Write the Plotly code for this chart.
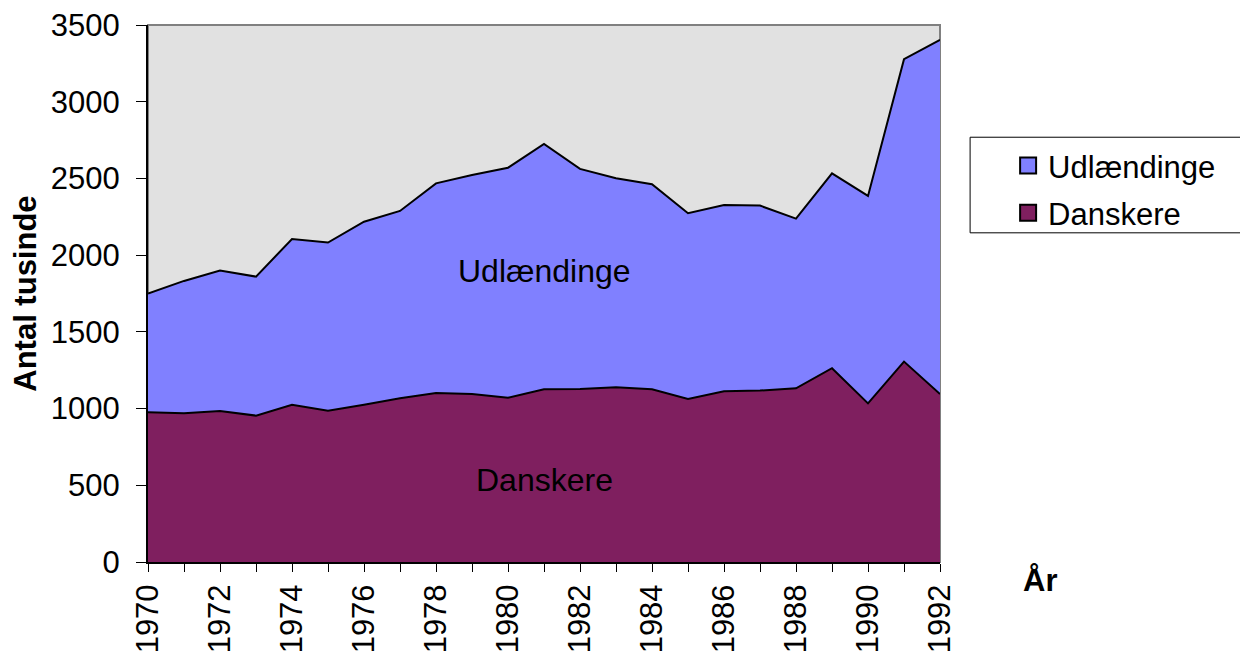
import plotly.graph_objects as go

years = list(range(1970, 1993))
total = [1750, 1832, 1900, 1860, 2105, 2082, 2218, 2288, 2468, 2522, 2570, 2725,
         2562, 2501, 2462, 2273, 2327, 2323, 2238, 2533, 2386, 3277, 3403]
danskere = [976, 969, 984, 954, 1025, 986, 1025, 1067, 1101, 1095, 1071, 1126,
            1128, 1139, 1126, 1063, 1113, 1117, 1132, 1263, 1034, 1306, 1095]
udlaendinge = [t - d for t, d in zip(total, danskere)]
tick_labels = [str(y) if y % 2 == 0 else "" for y in years]

FONT = "Liberation Sans, Arial, sans-serif"
C_DK = "#7F1F5F"
C_UD = "#8080FF"

fig = go.Figure()
fig.add_trace(go.Scatter(
    x=years, y=danskere, name="Danskere", stackgroup="one",
    mode="lines", line=dict(color="black", width=2),
    fillcolor=C_DK, showlegend=False,
))
fig.add_trace(go.Scatter(
    x=years, y=udlaendinge, name="Udlændinge", stackgroup="one",
    mode="lines", line=dict(color="black", width=2),
    fillcolor=C_UD, showlegend=False,
))
# legend entries with square swatches
fig.add_trace(go.Scatter(
    x=[None], y=[None], name="Udlændinge", mode="markers", legendgroup="u",
    marker=dict(symbol="square", size=16, color=C_UD, line=dict(color="black", width=2)),
))
fig.add_trace(go.Scatter(
    x=[None], y=[None], name="Danskere", mode="markers", legendgroup="d",
    marker=dict(symbol="square", size=16, color=C_DK, line=dict(color="black", width=2)),
))

fig.update_layout(
    width=1240, height=644,
    margin=dict(l=140, r=308, t=17, b=90),
    paper_bgcolor="white",
    plot_bgcolor="#E1E1E1",
    font=dict(family=FONT, size=31, color="black"),
    showlegend=True,
    legend=dict(
        x=1.086, y=0.788, xanchor="left", yanchor="top",
        bgcolor="rgba(0,0,0,0)", borderwidth=0,
        tracegroupgap=4,
        font=dict(size=31),
    ),
    annotations=[
        dict(text="Udlændinge", x=1981, y=1895, xref="x", yref="y",
             showarrow=False, font=dict(size=32)),
        dict(text="Danskere", x=1981, y=535, xref="x", yref="y",
             showarrow=False, font=dict(size=32)),
        dict(text="<b>År</b>", x=1.126, y=-0.034, xref="paper", yref="paper",
             xanchor="center", yanchor="middle",
             showarrow=False, font=dict(size=31)),
        dict(text="<b>Antal tusinde</b>", x=-0.155, y=0.5, xref="paper", yref="paper",
             xanchor="center", yanchor="middle",
             textangle=-90, showarrow=False, font=dict(size=31)),
    ],
    shapes=[
        dict(type="rect", xref="paper", yref="paper", x0=0, y0=0, x1=1, y1=1,
             line=dict(color="#808080", width=2), layer="below"),
        # legend frame
        dict(type="rect", xref="paper", yref="paper",
             x0=1.038, x1=1.386, y0=0.613, y1=0.791,
             line=dict(color="black", width=1)),
    ],
)

fig.update_xaxes(
    range=[1970, 1992], automargin=False,
    tickmode="array", tickvals=years, ticktext=tick_labels,
    tickangle=-90, ticklabeloverflow="allow",
    ticks="outside", ticklen=8, tickcolor="black", ticklabelstandoff=0,
    showline=True, linecolor="black", linewidth=2,
    showgrid=False, zeroline=False,
    tickfont=dict(size=31),
)
fig.update_yaxes(
    range=[0, 3500], dtick=500, automargin=False, ticklabeloverflow="allow",
    ticks="outside", ticklen=10, tickcolor="black", ticklabelstandoff=10,
    showline=True, linecolor="black", linewidth=2,
    showgrid=False, zeroline=False,
    tickfont=dict(size=31),
)

fig.write_html("out.html")
